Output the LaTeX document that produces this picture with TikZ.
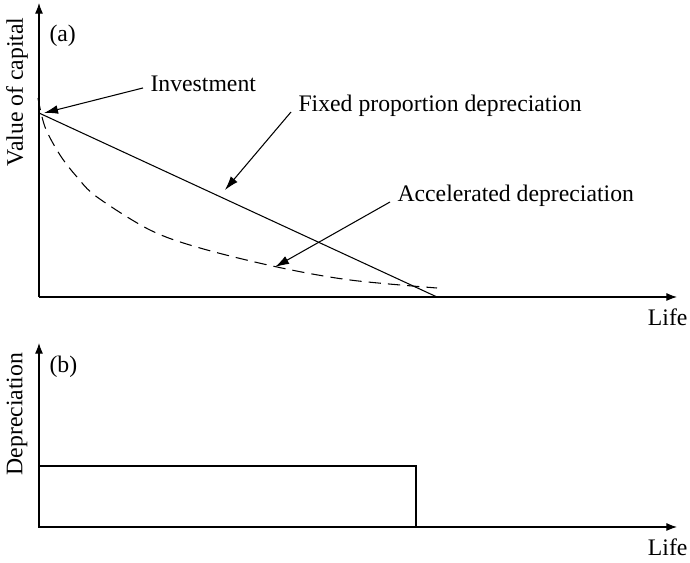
\documentclass[tikz,border=0pt]{standalone}
\usepackage{fontspec}
\setmainfont{Liberation Serif}
\usetikzlibrary{arrows.meta}

\tikzset{
  axis/.style={-{Latex[length=6pt,width=4.5pt]}},
  pointer/.style={-{Latex[length=8pt,width=5pt]}},
  lbl/.style={inner sep=0pt,font=\fontsize{13.5}{15}\selectfont},
  ann/.style={inner sep=4pt,font=\fontsize{13.5}{15}\selectfont,anchor=base west},
}

\begin{document}
\begin{tikzpicture}[x=0.02cm,y=-0.02cm,line width=.6pt]
\useasboundingbox (0,0) rectangle (690,563);

% (a)
\coordinate (oa) at (39,297);
\coordinate (ya) at (39,3);
\coordinate (xa) at (677,297);
\draw[axis] (oa) -- (ya);
\draw[axis] (oa) -- (xa);
\node[lbl,anchor=base east] (lifea) at (688,326) {Life};
\node[lbl,anchor=base west] (taga) at (49,42) {(a)};
\node[lbl,rotate=90] (vcap) at (17,92) {Value of capital};

\coordinate (invest) at (39,113);
\coordinate (scrap) at (437,297);
\draw (invest) -- (scrap);
\draw[dash pattern=on 7pt off 4pt] plot[smooth,tension=.55] coordinates
  {(38,98) (45,127) (60,155) (77,177) (97,197) (150,230) (200,248) (277,267) (350,280) (437,288)};

\node[ann] (inv) at (143,92) {Investment};
\node[ann] (fix) at (291,112) {Fixed proportion depreciation};
\node[ann] (acc) at (390,202) {Accelerated depreciation};
\coordinate (invtip) at (44,113);
\coordinate (fixtip) at (225,190);
\coordinate (acctip) at (275,267);
\draw[pointer] (inv.mid west) -- (invtip);
\draw[pointer] (fix.base west) -- (fixtip);
\draw[pointer] (acc.base west) -- (acctip);

% (b)
\coordinate (ob) at (39,527);
\coordinate (yb) at (39,343);
\coordinate (xb) at (677,527);
\draw[axis] (ob) -- (yb);
\draw[axis] (ob) -- (xb);
\node[lbl,anchor=base east] (lifeb) at (688,556) {Life};
\node[lbl,anchor=base west] (tagb) at (49,373) {(b)};
\node[lbl,rotate=90] (dep) at (17,414) {Depreciation};
\draw (ob) rectangle (416,466);

\end{tikzpicture}
\end{document}
